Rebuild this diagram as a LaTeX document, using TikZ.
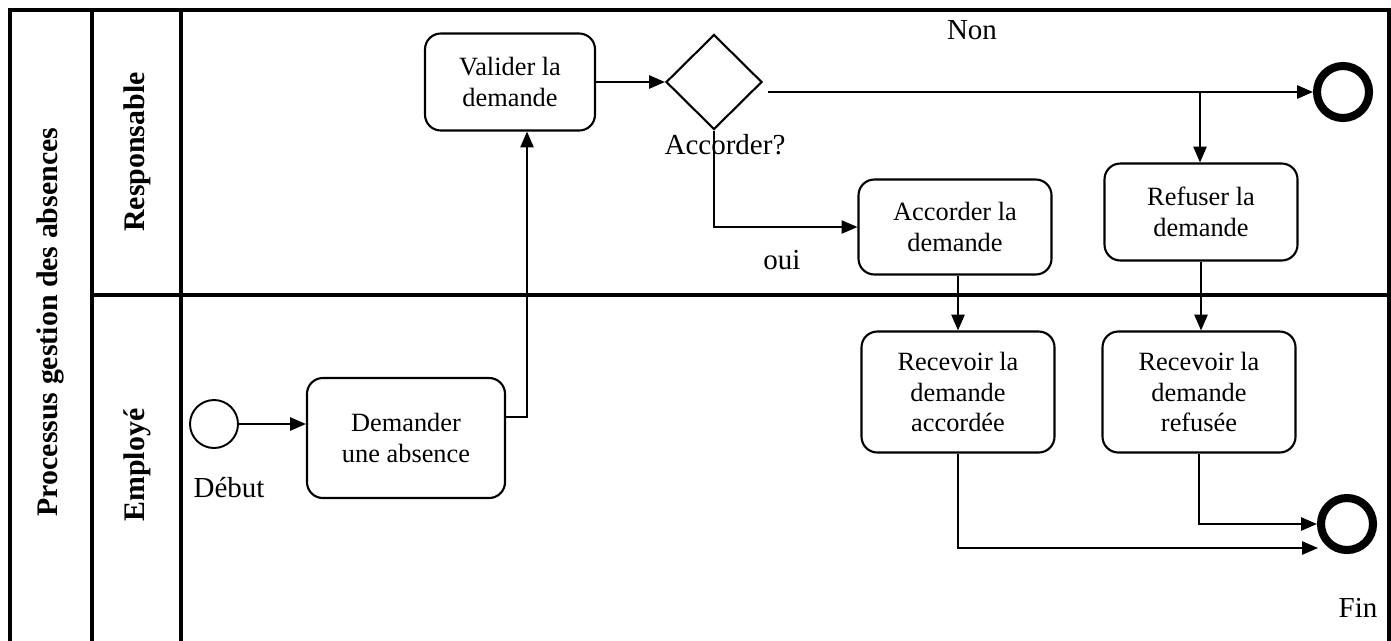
\documentclass[tikz,border=0pt]{standalone}
\usepackage{fontspec}
\setmainfont{Liberation Serif}
\usetikzlibrary{shapes.geometric,arrows.meta}
\begin{document}
\begin{tikzpicture}[x=0.02cm,y=-0.02cm,
  txt/.style={font=\fontsize{15}{17.6}\selectfont},
  task/.style={txt,draw,line width=1.2pt,rounded corners=9pt,align=center,inner sep=0pt},
  lanetitle/.style={rotate=90,font=\bfseries\fontsize{17}{20}\selectfont,inner sep=0pt},
  frame/.style={line width=2.4pt},
  flow/.style={line width=1.1pt,-{Triangle[length=9pt,width=7.5pt]}},
  thinflow/.style={line width=0.9pt,-{Triangle[length=9pt,width=7.5pt]}},
  lbl/.style={font=\fontsize{16.5}{19}\selectfont,inner sep=0pt},
  endev/.style={circle,draw,line width=4.6pt,minimum size={52*0.02cm},inner sep=0pt},
  startev/.style={circle,draw,line width=1.1pt,minimum size={48*0.02cm},inner sep=0pt},
  gate/.style={diamond,draw,line width=1.2pt,minimum width={96*0.02cm},minimum height={95*0.02cm},inner sep=0pt}]
\useasboundingbox (0,0) rectangle (1391,640);
% frame
\draw[frame] (10,660) -- (10,10) -- (1389,10) -- (1389,660);
\draw[frame] (92,10) -- (92,660);
\draw[frame] (181,10) -- (181,660);
\draw[frame] (92,295) -- (1389,295);
\node[lanetitle] (proc) at (50,322) {Processus gestion des absences};
\node[lanetitle] (resp) at (137,152) {Responsable};
\node[lanetitle] (empl) at (137,465) {Employé};
% nodes
\node[task,minimum width={170*0.02cm},minimum height={97*0.02cm}] (val) at (510,82) {Valider la\\demande};
\node[gate] (gw) at (714,82) {};
\node[endev] (end1) at (1343,92) {};
\node[task,minimum width={193*0.02cm},minimum height={95*0.02cm}] (acc) at (955,227) {Accorder la\\demande};
\node[task,minimum width={193*0.02cm},minimum height={97*0.02cm}] (ref) at (1201,212) {Refuser la\\demande};
\node[startev] (start) at (214,424) {};
\node[task,minimum width={198*0.02cm},minimum height={120*0.02cm}] (dem) at (406,438) {Demander\\une absence};
\node[task,minimum width={193*0.02cm},minimum height={121*0.02cm}] (recA) at (958,392) {Recevoir la\\demande\\accordée};
\node[task,minimum width={193*0.02cm},minimum height={121*0.02cm}] (recR) at (1199,392) {Recevoir la\\demande\\refusée};
\node[endev] (end2) at (1347,524) {};
% labels
\node[lbl] (non) at (972,30) {Non};
\node[lbl] (acq) at (725,145) {Accorder?};
\node[lbl] (oui) at (782,260) {oui};
\node[lbl] (deb) at (229,488) {Début};
\node[lbl] (fin) at (1358,608) {Fin};
% connectors
\coordinate (c1) at (527,417);
\coordinate (n0) at (768,92);
\coordinate (br) at (1200,92);
\coordinate (e2b) at (1318,548);
\draw[flow] (start.east) -- (start.east -| dem.west);
\draw[flow] (dem.east |- c1) -- (c1) -- (c1 |- val.south);
\draw[flow] (val.east) -- (gw.west);
\draw[flow] (n0) -- (n0 -| end1.west);
\draw[flow] (br) -- (br |- ref.north);
\draw[thinflow] (gw.south) |- (acc.west);
\draw[flow] (recA.north |- acc.south) -- (recA.north);
\draw[flow] (ref.south) -- (ref.south |- recR.north);
\draw[thinflow] (recR.south) |- (end2.west);
\draw[thinflow] (recA.south) |- (e2b);
\end{tikzpicture}
\end{document}
